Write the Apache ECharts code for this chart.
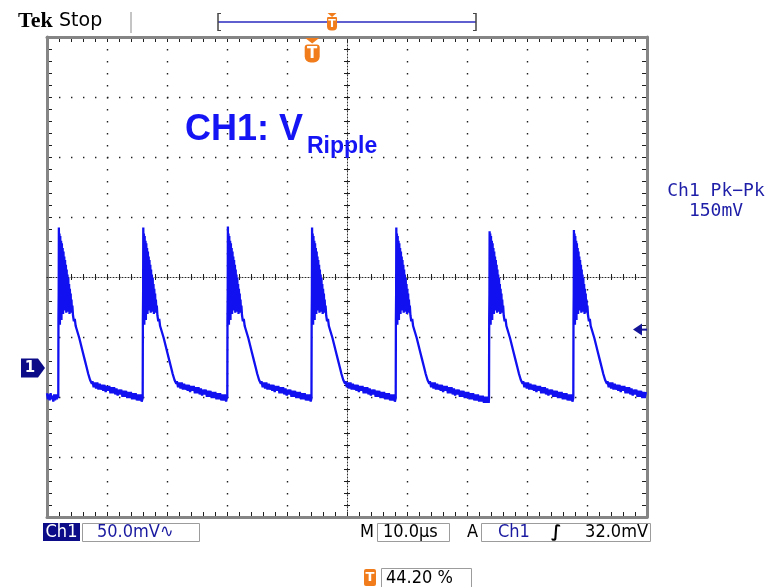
<!DOCTYPE html>
<html>
<head>
<meta charset="utf-8">
<script src="https://cdn.jsdelivr.net/npm/echarts@6/dist/echarts.min.js"></script>
<style>
html,body{margin:0;padding:0;background:#fff;}
#c{width:780px;height:587px;}
</style>
</head>
<body>
<div id="c"></div>
<script>
// ---------------- data read from the scope screen ----------------
// horizontal: 10.0 µs/div, 10 divisions -> 0..100 µs across the screen
// vertical: 50.0 mV/div, 8 divisions
const timeSpanUs = [0, 100];
const voltsPerDivMv = 50;
const groundDivFromTop = 5.517;          // Ch1 ground marker position (divisions below top)
const triggerPct = 44.2;                 // trigger position, % of record
const triggerLevelMv = 32.0;             // trigger level
const edgeTimesUs = [1.88, 15.95, 30.05, 44.08, 58.12, 73.67, 87.72];  // rising edges
const peakMv = [117, 117, 118, 117, 117, 114, 115];                     // spike peaks

// baseline before the first edge [t µs, mV]
const leadInMv = [[0,-21],[0.15,-26],[0.3,-22],[0.45,-27],[0.6,-21],[0.75,-26],[0.9,-23],
  [1.05,-28],[1.2,-22],[1.35,-27],[1.5,-22],[1.65,-26],[1.8,-23]];

// one ripple period, [dt µs after edge, mV]; index 3 = spike peak
const pulseShapeMv = [
  [0,-25],[0.03,40],[0.07,62],[0.1,117],[0.15,40],[0.2,112],[0.27,36],[0.33,110],[0.4,50],
  [0.47,106],[0.53,40],[0.6,104],[0.67,55],[0.73,100],[0.8,45],[0.87,97],[0.93,52],[1.0,93],
  [1.07,48],[1.13,90],[1.2,58],[1.27,86],[1.33,46],[1.4,82],[1.47,55],[1.53,78],[1.6,47],
  [1.67,75],[1.73,54],[1.8,70],[1.87,45],[1.93,66],[2.0,52],[2.07,62],[2.13,46],[2.2,57],
  [2.27,48],[2.35,52],
  [2.45,44],[2.6,39],[2.75,41],[2.9,35],[3.05,36],[3.2,30],[3.35,31],[3.5,25],[3.65,25],
  [3.8,19],[3.95,19],[4.1,13],[4.25,13],[4.4,7],[4.55,7],[4.7,1],[4.85,0],[5.0,-5],
  [5.15,-6],[5.3,-10],[5.45,-10],[5.6,-13],
  [5.7,-11],[5.9,-16],[6.1,-12],[6.3,-17],[6.5,-12],[6.7,-18],[6.9,-13],[7.1,-18],[7.3,-14],
  [7.5,-19],[7.7,-14],[7.9,-20],[8.1,-15],[8.3,-19],[8.5,-15],[8.7,-21],[8.9,-16],[9.1,-21],
  [9.3,-16],[9.5,-22],[9.7,-17],[9.9,-23],[10.1,-18],[10.3,-22],[10.5,-18],[10.7,-24],
  [10.9,-19],[11.1,-24],[11.3,-19],[11.5,-25],[11.7,-20],[11.9,-25],[12.1,-20],[12.3,-26],
  [12.5,-21],[12.7,-26],[12.9,-21],[13.1,-27],[13.3,-22],[13.5,-27],[13.7,-22],[13.9,-28],
  [14.1,-23],[14.3,-28],[14.5,-23],[14.7,-29],[14.9,-24],[15.1,-29],[15.3,-24],[15.5,-29],
  [15.7,-25]
];

// ---------------- build the trace ----------------
const trace = leadInMv.slice();
edgeTimesUs.forEach(function (t0, k) {
  const tEnd = k + 1 < edgeTimesUs.length ? edgeTimesUs[k + 1] : timeSpanUs[1];
  pulseShapeMv.forEach(function (p, i) {
    const t = t0 + p[0];
    if (t < tEnd) trace.push([t, i === 3 ? peakMv[k] : p[1]]);
  });
});

const yMaxMv = groundDivFromTop * voltsPerDivMv;
const yMinMv = yMaxMv - 8 * voltsPerDivMv;

// ---------------- graticule axes (in divisions) ----------------
const DOT = '#1e1e1e';
const GW = 600, GH = 480;
// tick pattern along a grid line: short mark at each end and a cross mark at the centre
function tickDash(len) { return [5, len / 2 - 8, 6, len / 2 - 8, 5, 0]; }
function frameAxis(pos, min, max, opts) {
  const len = (pos === 'left' || pos === 'right') ? GW : GH;
  return {
    type: 'value', min: min, max: max, interval: 1, position: pos,
    axisLine: { show: true, onZero: false, lineStyle: { color: '#858585', width: 3 } },
    axisTick: { show: false },
    minorTick: { show: false, splitNumber: 5 },
    axisLabel: { show: false },
    splitLine: opts.dots
      ? { show: true, lineStyle: { color: DOT, width: 1.4, type: [1.4, 10.6] } }
      : { show: true, lineStyle: { color: DOT, width: 1, type: tickDash(len) } },
    minorSplitLine: { show: !!opts.dots, lineStyle: { color: DOT, width: 1, type: tickDash(len) } },
    silent: true
  };
}
function centerAxis(pos, min, max, zeroIdx) {
  return {
    type: 'value', min: min, max: max, interval: 1, position: pos,
    axisLine: { show: true, onZero: true, onZeroAxisIndex: zeroIdx,
      lineStyle: { color: '#2a2a2a', width: 1, type: [1, 2] } },
    axisTick: { show: false }, minorTick: { show: false },
    axisLabel: { show: false }, splitLine: { show: false },
    silent: true
  };
}

const option = {
  animation: false,
  backgroundColor: '#ffffff',
  grid: { left: 47, top: 37, width: GW, height: GH, show: false },
  xAxis: [
    { type: 'value', min: timeSpanUs[0], max: timeSpanUs[1], show: false,
      axisLine: { onZero: false } },
    frameAxis('bottom', -5, 5, { dots: true }),
    frameAxis('top', -5, 5, { dots: false }),
    centerAxis('bottom', -5, 5, 1)
  ],
  yAxis: [
    { type: 'value', min: yMinMv, max: yMaxMv, show: false, axisLine: { onZero: false } },
    frameAxis('left', -4, 4, { dots: true }),
    frameAxis('right', -4, 4, { dots: false }),
    centerAxis('left', -4, 4, 1)
  ],
  series: [{
    type: 'line', xAxisIndex: 0, yAxisIndex: 0, data: trace,
    symbol: 'none', showSymbol: false, clip: true, z: 5,
    lineStyle: { color: '#1010f0', width: 2.3 },
    emphasis: { disabled: true }
  }]
};

const chart = echarts.init(document.getElementById('c'), null, { renderer: 'canvas' });
chart.setOption(option);

// ---------------- screen annotations ----------------
const gy = chart.convertToPixel({ yAxisIndex: 0 }, 0);
const ty = chart.convertToPixel({ yAxisIndex: 0 }, triggerLevelMv);
const tx = chart.convertToPixel({ xAxisIndex: 0 }, triggerPct);
const recL = 218, recR = 476;
const rx = recL + (recR - recL) * triggerPct / 100;

const ORANGE = '#f07c1c';
const NAVY = '#0c0c88';
const COND = '"DejaVu Sans Condensed","Liberation Sans Narrow","DejaVu Sans",sans-serif';

function txt(x, y, s, font, fill, align) {
  return { type: 'text', x: x, y: y, z: 20, silent: true,
    style: { text: s, font: font, fill: fill, align: align || 'left', verticalAlign: 'middle' } };
}
function rect(x, y, w, h, fill, stroke, r) {
  return { type: 'rect', z: 19, silent: true, shape: { x: x, y: y, width: w, height: h, r: r || 0 },
    style: { fill: fill, stroke: stroke || null, lineWidth: 1 } };
}
function poly(pts, fill) {
  return { type: 'polygon', z: 19, silent: true, shape: { points: pts }, style: { fill: fill } };
}
function line(x1, y1, x2, y2, stroke, w) {
  return { type: 'line', z: 19, silent: true, shape: { x1: x1, y1: y1, x2: x2, y2: y2 },
    style: { stroke: stroke, lineWidth: w } };
}

const g = [
  // header
  txt(18, 21, 'Tek', 'bold 22px "Liberation Serif"', '#000'),
  txt(59, 21, 'Stop', '19px "DejaVu Sans"', '#000'),
  line(131, 12, 131, 33, '#8a8a8a', 1),
  // record bar
  line(recL, 22, recR, 22, '#2a2ac0', 1.5),
  line(recL, 13, recL, 31, '#444', 1.5), line(recL, 13.5, recL + 3, 13.5, '#444', 1), line(recL, 30.5, recL + 3, 30.5, '#444', 1),
  line(recR, 13, recR, 31, '#444', 1.5), line(recR - 3, 13.5, recR, 13.5, '#444', 1), line(recR - 3, 30.5, recR, 30.5, '#444', 1),
  poly([[rx - 4.5, 13], [rx + 4.5, 13], [rx, 17]], ORANGE),
  rect(rx - 5, 17, 10, 13.5, ORANGE, null, [1, 1, 4, 4]),
  txt(rx, 24, 'T', 'bold 11px "DejaVu Sans"', '#fff', 'center'),
  // trigger position marker
  poly([[tx - 7, 38], [tx + 7, 38], [tx, 43.5]], ORANGE),
  rect(tx - 7.5, 44.5, 15, 18, ORANGE, null, [3, 3, 6, 6]),
  txt(tx, 54, 'T', 'bold 15px "DejaVu Sans"', '#fff', 'center'),
  // title
  txt(185, 130.5, 'CH1: V', 'bold 36px "Liberation Sans"', '#1414f5'),
  txt(307, 146.5, 'Ripple', 'bold 23px "Liberation Sans"', '#1414f5'),
  // measurement
  txt(716, 191.5, 'Ch1 Pk\u2212Pk', '18px "DejaVu Sans Mono"', '#1e1ea8', 'center'),
  txt(716, 211.5, '150mV', '18px "DejaVu Sans Mono"', '#1e1ea8', 'center'),
  // ground marker
  poly([[21, gy - 9.5], [38, gy - 9.5], [45, gy], [38, gy + 9.5], [21, gy + 9.5]], NAVY),
  txt(30, gy + 0.5, '1', 'bold 15px "DejaVu Sans"', '#fff', 'center'),
  // trigger level arrow
  poly([[633, ty], [642, ty - 6], [642, ty + 6]], '#14149a'),
  line(641, ty, 647, ty, '#14149a', 2),
  // status bar
  rect(43, 523, 37, 18, NAVY),
  txt(61.5, 532.5, 'Ch1', '18px ' + COND, '#fff', 'center'),
  rect(82.5, 523.5, 117, 18, '#fff', '#9c9c9c'),
  txt(97, 532.5, '50.0mV\u223F', '18px ' + COND, '#1a1aa0'),
  txt(360, 532.5, 'M', '18px ' + COND, '#000'),
  rect(377.5, 523.5, 72, 18, '#fff', '#9c9c9c'),
  txt(383, 532.5, '10.0\u00B5s', '18px ' + COND, '#000'),
  txt(467, 532.5, 'A', '18px ' + COND, '#000'),
  rect(481.5, 523.5, 169, 18, '#fff', '#9c9c9c'),
  txt(498, 532.5, 'Ch1', '18px ' + COND, '#1a1aa0'),
  txt(551, 532.5, '\u222B', 'bold 17px "DejaVu Sans"', '#000'),
  txt(648, 532.5, '32.0mV', '18px ' + COND, '#000', 'right'),
  // trigger position readout
  rect(364, 569, 12, 17, ORANGE, null, 2),
  txt(370, 577.5, 'T', 'bold 13px "DejaVu Sans"', '#fff', 'center'),
  rect(381.5, 568.5, 90, 19, '#fff', '#9c9c9c'),
  txt(386, 578, '44.20 %', '18px ' + COND, '#000')
];
chart.setOption({ graphic: g });
</script>
</body>
</html>
